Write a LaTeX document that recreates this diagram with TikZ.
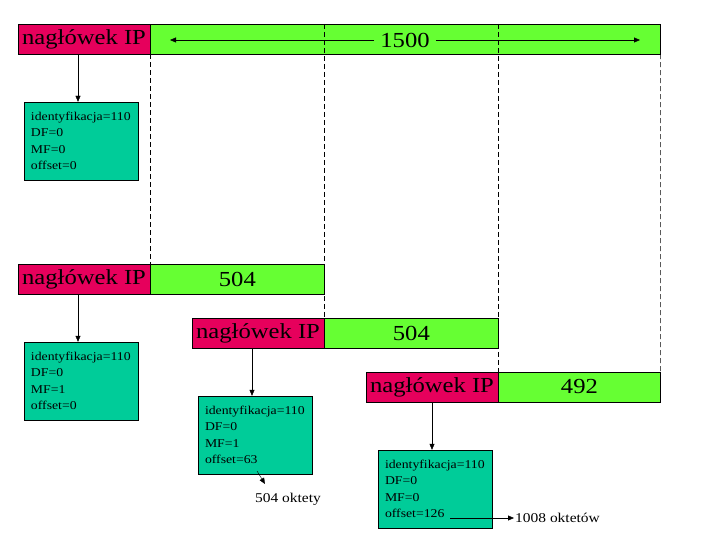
\documentclass[tikz,border=0pt]{standalone}
\usepackage{fontspec}
\setmainfont[FakeStretch=1.15]{Liberation Serif}
\usetikzlibrary{arrows.meta,positioning}
\definecolor{hdrred}{RGB}{230,0,92}
\definecolor{datagreen}{RGB}{102,255,51}
\definecolor{infoteal}{RGB}{0,204,153}
\tikzstyle{hdr}=[rectangle, draw=black, fill=hdrred, minimum width=132bp,
  minimum height=30bp, inner sep=0pt, font=\fontsize{21.5}{24}\selectfont]
\tikzstyle{payload}=[rectangle, draw=black, fill=datagreen, minimum height=30bp,
  inner sep=0pt, font=\fontsize{21.5}{24}\selectfont]
\tikzstyle{info}=[rectangle, draw=black, fill=infoteal, minimum width=114bp,
  minimum height=78bp, text width=100bp, inner sep=0pt, align=left,
  font=\fontsize{12}{16.5}\selectfont]
\tikzstyle{note}=[inner sep=1bp, font=\fontsize{13.5}{16}\selectfont]
\tikzstyle{arrow}=[-{Triangle[length=6bp,width=5bp]}, black]
\tikzstyle{cut}=[dash pattern=on 5bp off 3bp, black]

\begin{document}
\begin{tikzpicture}[x=1bp, y=-1bp]
    \useasboundingbox (0,0) rectangle (720,540);

    % Original datagram
    \node[hdr] (hdrA) at (84,39) {nagłówek IP};
    \node[payload, minimum width=510bp, right=0pt of hdrA] (dataA) {};
    \node[fill=datagreen, inner xsep=6bp, inner ysep=2bp,
      font=\fontsize{21.5}{24}\selectfont] (len) at (405,40) {1500};
    \coordinate (arrL) at (170,40);
    \coordinate (arrR) at (640,40);
    \node[info] (infoA) at (81,141) {identyfikacja=110\\ DF=0\\ MF=0\\ offset=0};

    % Fragments, stepped to the right
    \node[hdr] (hdrB) at (84,279) {nagłówek IP};
    \node[payload, minimum width=174bp, right=0pt of hdrB] (dataB) {504};
    \node[info] (infoB) at (81,381) {identyfikacja=110\\ DF=0\\ MF=1\\ offset=0};

    \node[hdr] (hdrC) at (258,333) {nagłówek IP};
    \node[payload, minimum width=174bp, right=0pt of hdrC] (dataC) {504};
    \node[info] (infoC) at (255,435) {identyfikacja=110\\ DF=0\\ MF=1\\ offset=63};

    \node[hdr] (hdrD) at (432,387) {nagłówek IP};
    \node[payload, minimum width=162bp, right=0pt of hdrD] (dataD) {492};
    \node[info] (infoD) at (435,489) {identyfikacja=110\\ DF=0\\ MF=0\\ offset=126};

    % Offset notes
    \node[note] (oktC) at (288,499) {504 oktety};
    \coordinate (offC) at (257,471);
    \coordinate (tipC) at (265,484);
    \node[note, anchor=west] (oktD) at (514,518) {1008 oktetów};
    \coordinate (offD) at (450,518);

    % Fragment boundaries
    \draw[cut] (dataA.south west) -- (hdrB.north east);
    \draw[cut] (hdrC.north east |- dataA.north) -- (hdrC.north east);
    \draw[cut] (hdrD.north east |- dataA.north) -- (hdrD.north east);
    \draw[cut] (dataA.south east) -- (dataD.north east);

    \draw[arrow] (len.west) -- (arrL);
    \draw[arrow] (len.east) -- (arrR);
    \draw[arrow] ([xshift=-3bp]hdrA.south -| infoA.north) -- ([xshift=-3bp]infoA.north);
    \draw[arrow] ([xshift=-3bp]hdrB.south -| infoB.north) -- ([xshift=-3bp]infoB.north);
    \draw[arrow] ([xshift=-3bp]hdrC.south -| infoC.north) -- ([xshift=-3bp]infoC.north);
    \draw[arrow] ([xshift=-3bp]hdrD.south -| infoD.north) -- ([xshift=-3bp]infoD.north);
    \draw[arrow] (offC) -- (tipC);
    \draw[arrow] (offD) -- (oktD.west);

\end{tikzpicture}
\end{document}
